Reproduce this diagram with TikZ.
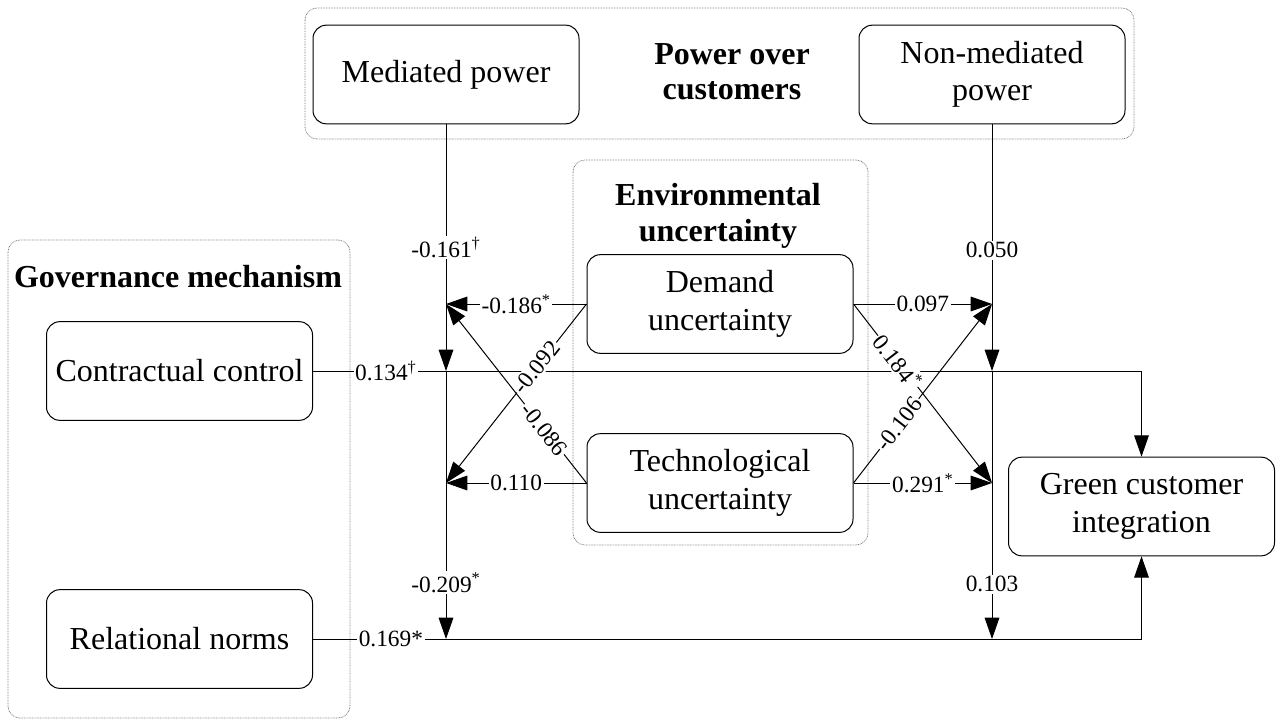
\documentclass[tikz,border=0pt]{standalone}
\usepackage{fontspec}
\setmainfont{Liberation Serif}
\usetikzlibrary{arrows.meta}
\begin{document}
\begin{tikzpicture}[x=0.75pt,y=-0.75pt,
 box/.style={draw, line width=0.75pt, rounded corners=10pt, minimum width=199.5pt, minimum height=74pt, inner sep=0pt, align=center, font=\fontsize{24}{28}\selectfont},
 grp/.style={draw=gray, line width=0.6pt, dash pattern=on 0.6pt off 0.6pt, rounded corners=9pt},
 ttl/.style={align=center, font=\bfseries\fontsize{24}{26.5}\selectfont, inner sep=0pt},
 lbl/.style={fill=white, inner sep=1.2pt, font=\fontsize{17.5}{20}\selectfont},
 con/.style={line width=0.75pt},
 arr/.style={con, -{Triangle[length=16pt, width=11pt]}},
]
\useasboundingbox (0,0) rectangle (1280,720);

% group frames
\draw[grp] (305,8) rectangle (1134,139);
\draw[grp] (573,160) rectangle (868,545);
\draw[grp] (8,240) rectangle (350,718);

% titles
\node[ttl] (tpow) at (732,72) {Power over\\customers};
\node[ttl] (tenv) at (718,216) {Environmental\\uncertainty};
\node[ttl] (tgov) at (178,277) {Governance mechanism};

% boxes
\node[box] (mp)  at (446,74.5) {Mediated power};
\node[box] (nmp) at (992,74.5) {Non-mediated\\power};
\node[box] (cc)  at (179.5,371) {Contractual control};
\node[box] (rn)  at (179.5,639) {Relational norms};
\node[box] (du)  at (720,304) {Demand\\uncertainty};
\node[box] (tu)  at (720,483) {Technological\\uncertainty};
\node[box] (gci) at (1141.5,506.5) {Green customer\\integration};

% junction points
\coordinate (j1) at (446,371);
\coordinate (j2) at (446,639);
\coordinate (a1) at (446,304);
\coordinate (a2) at (446,483);
\coordinate (k1) at (992,371);
\coordinate (k2) at (992,639);
\coordinate (b1) at (992,304);
\coordinate (b3) at (992,483);
\coordinate (c1) at (1141.5,371);
\coordinate (c2) at (1141.5,639);

% main horizontal paths
\draw[arr] (cc.east) -- node[lbl,pos=0.088]{0.134\textsuperscript{†}} (c1) -- (gci.north);
\draw[arr] (rn.east) -- node[lbl,pos=0.094]{0.169*} (c2) -- (gci.south);

% vertical moderating paths
\draw[arr] (mp.south) -- node[lbl,pos=0.50]{-0.161\textsuperscript{†}} (j1);
\draw[arr] (j1) -- node[lbl,pos=0.79]{-0.209\textsuperscript{*}} (j2);
\draw[arr] (nmp.south) -- node[lbl,pos=0.51]{0.050} (k1);
\draw[arr] (k1) -- node[lbl,pos=0.795]{0.103} (k2);

% uncertainty paths (left)
\draw[arr] (du.west) -- node[lbl]{-0.186\textsuperscript{*}} (a1);
\draw[arr] (tu.west) -- node[lbl]{0.110} (a2);
\draw[arr] (du.west) -- node[lbl,sloped,pos=0.355]{-0.092} (a2);
\draw[arr] (tu.west) -- node[lbl,sloped,pos=0.30]{-0.086} (a1);

% uncertainty paths (right)
\draw[arr] (du.east) -- node[lbl]{0.097} (b1);
\draw[arr] (tu.east) -- node[lbl]{0.291\textsuperscript{*}} (b3);
\draw[arr] (du.east) -- node[lbl,sloped,pos=0.32]{0.184\textsuperscript{*}} (b3);
\draw[arr] (tu.east) -- node[lbl,sloped,pos=0.33]{-0.106} (b1);
\end{tikzpicture}
\end{document}
